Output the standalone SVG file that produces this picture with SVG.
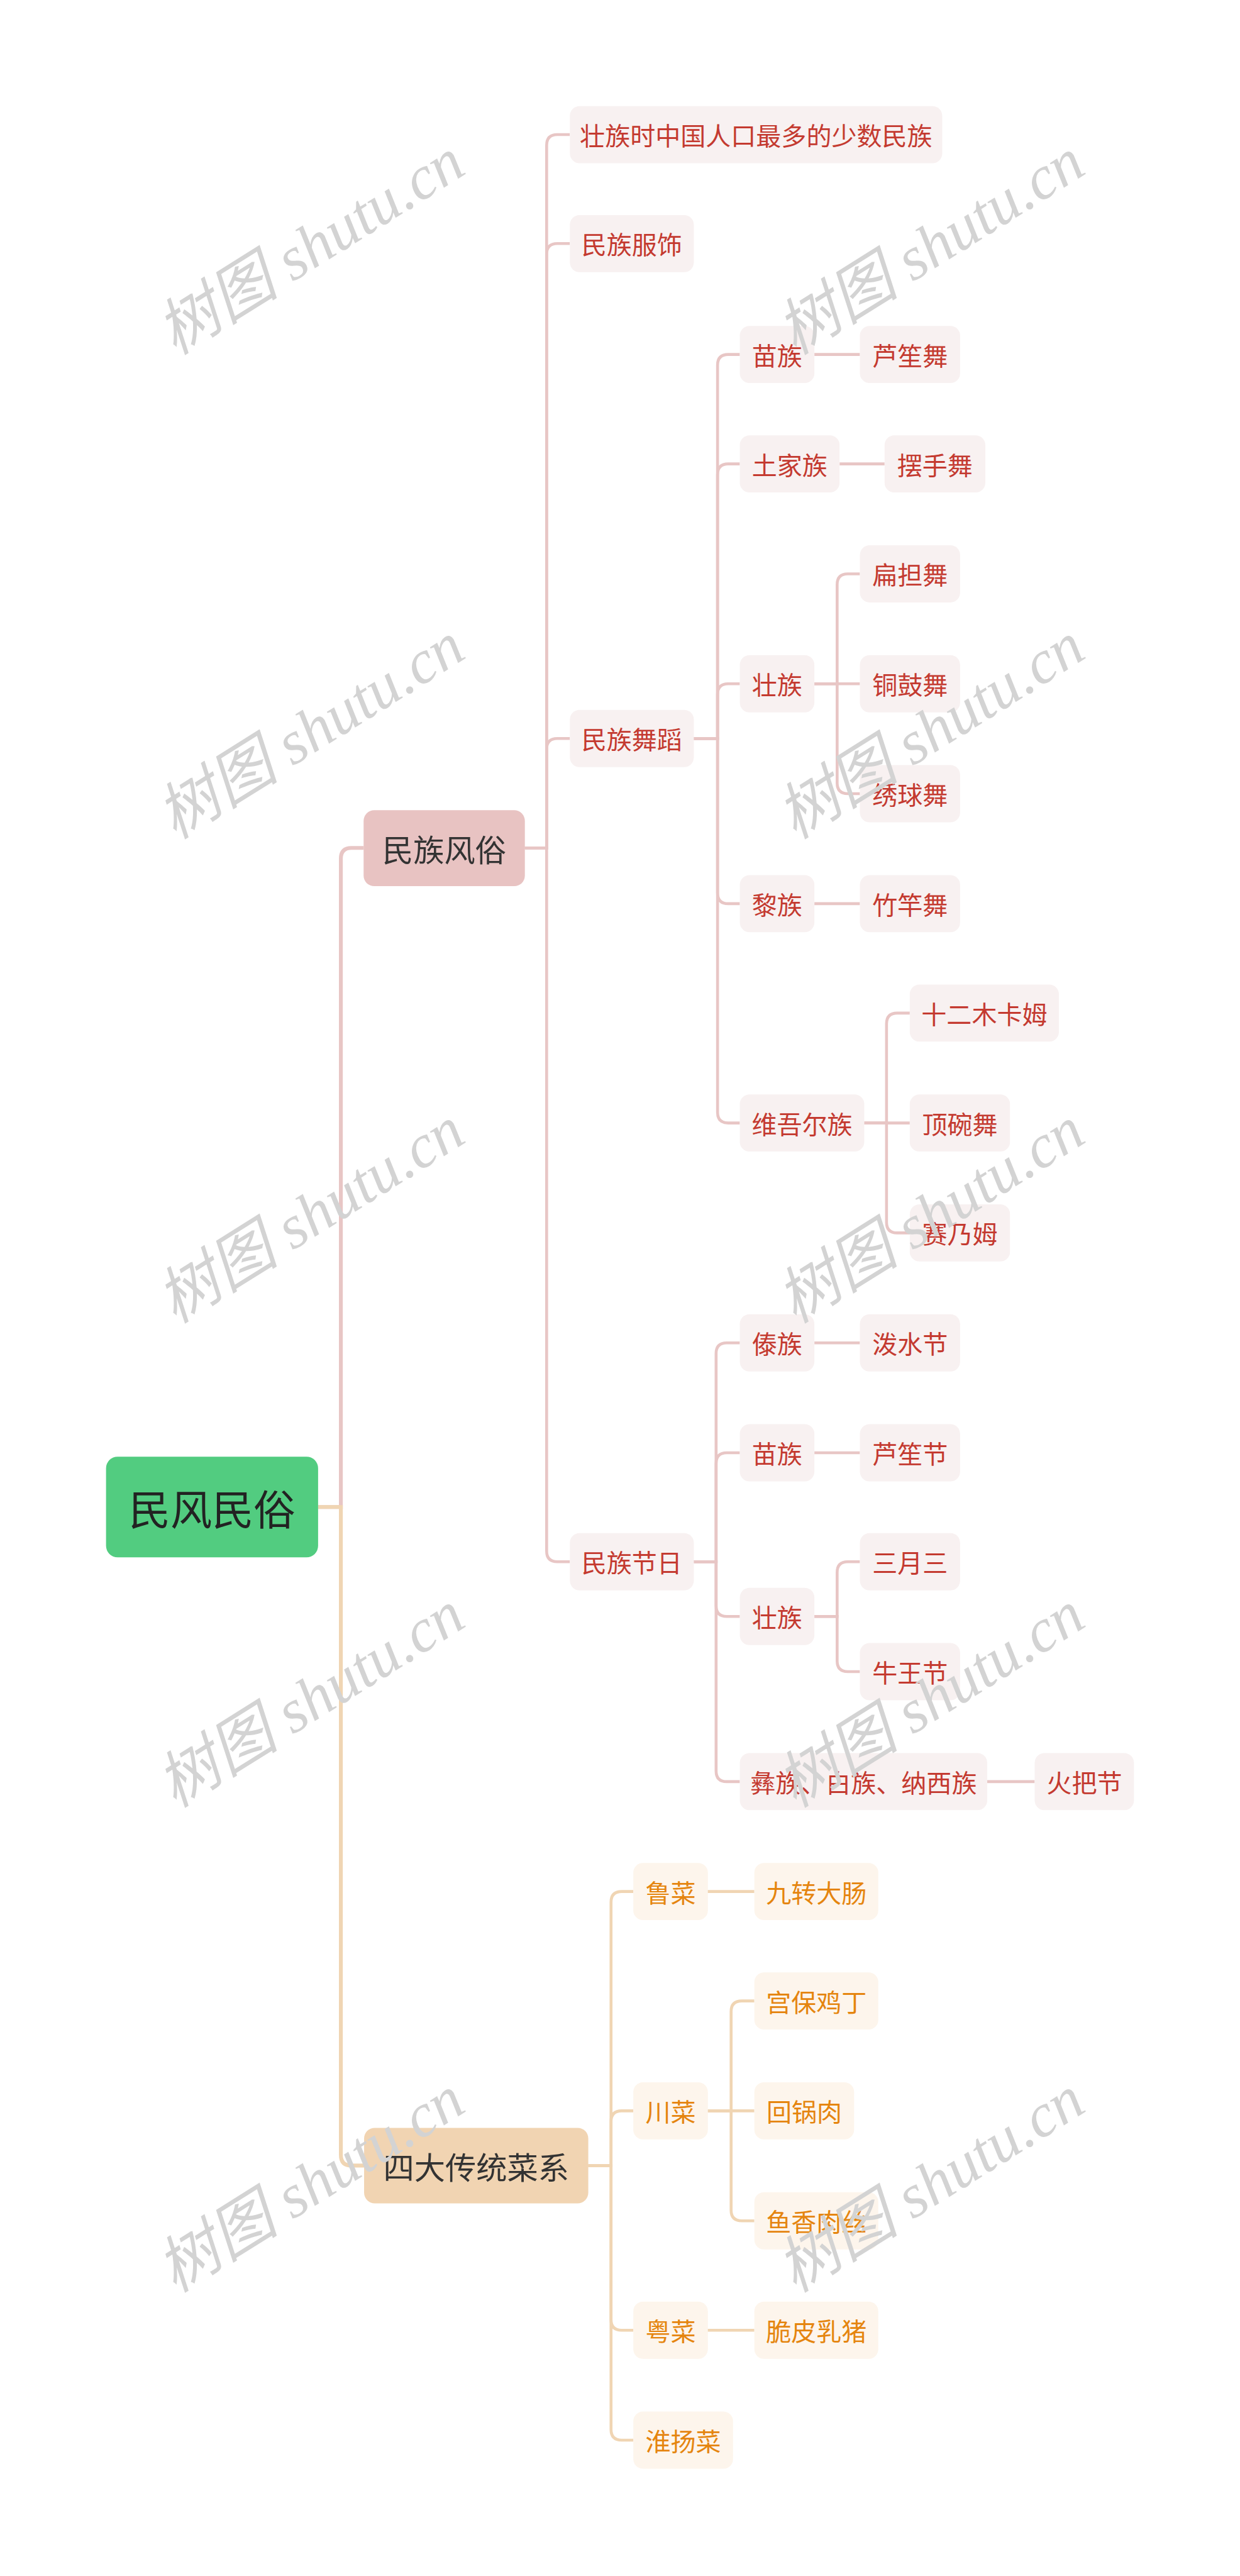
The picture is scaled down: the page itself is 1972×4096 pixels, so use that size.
<svg xmlns="http://www.w3.org/2000/svg" width="1972" height="4096" viewBox="0 0 1972 4096">
<style>
.pk{fill:#f8f1f1}
.or{fill:#fdf5ec}
.tp{font-family:"Noto Sans CJK SC","Noto Sans",sans-serif;font-size:52px;fill:#c43a30;text-anchor:middle;dominant-baseline:central}
.to{font-family:"Noto Sans CJK SC","Noto Sans",sans-serif;font-size:52px;fill:#e5850f;text-anchor:middle;dominant-baseline:central}
.t1{font-family:"Noto Sans CJK SC","Noto Sans",sans-serif;font-size:64px;fill:#333333;text-anchor:middle;dominant-baseline:central}
.t0{font-family:"Noto Sans CJK SC","Noto Sans",sans-serif;font-size:86px;fill:#222222;text-anchor:middle;dominant-baseline:central}
.cp{fill:none;stroke:#e8c6c5;stroke-width:6}
.co{fill:none;stroke:#f0d5b3;stroke-width:6}
.cp8{fill:none;stroke:#e8c6c5;stroke-width:8}
.co8{fill:none;stroke:#f0d5b3;stroke-width:8}
.wm{font-family:"Liberation Serif","Noto Sans CJK SC",serif;font-style:italic;font-size:98px;fill:#d3d3d3;text-anchor:middle;dominant-baseline:central}
</style>
<rect width="1972" height="4096" fill="#ffffff"/>
<g transform="scale(0.77)">
<g id="connectors">
<path class="cp8" d="M657,3112 H704 V1773 Q704,1751 726,1751 H751"/>
<path class="co8" d="M657,3112 H704 V4450 Q704,4472 726,4472 H752"/>
<path class="cp" d="M1084,1751 H1129 V300 Q1129,278 1151,278 H1177"/>
<path class="cp" d="M1084,1751 H1129 V525 Q1129,503 1151,503 H1177"/>
<path class="cp" d="M1084,1751 H1129 V1547 Q1129,1525 1151,1525 H1177"/>
<path class="cp" d="M1084,1751 H1129 V3203 Q1129,3225 1151,3225 H1177"/>
<path class="cp" d="M1433,1525 H1482 V754 Q1482,732 1504,732 H1528"/>
<path class="cp" d="M1433,1525 H1482 V980 Q1482,958 1504,958 H1528"/>
<path class="cp" d="M1433,1525 H1482 V1434 Q1482,1412 1504,1412 H1528"/>
<path class="cp" d="M1433,1525 H1482 V1844 Q1482,1866 1504,1866 H1528"/>
<path class="cp" d="M1433,1525 H1482 V2297 Q1482,2319 1504,2319 H1528"/>
<path class="cp" d="M1682,732 H1776"/>
<path class="cp" d="M1734,958 H1827"/>
<path class="cp" d="M1682,1412 H1729 V1207 Q1729,1185 1751,1185 H1776"/>
<path class="cp" d="M1682,1412 H1776"/>
<path class="cp" d="M1682,1412 H1729 V1617 Q1729,1639 1751,1639 H1776"/>
<path class="cp" d="M1682,1866 H1776"/>
<path class="cp" d="M1785,2319 H1831 V2114 Q1831,2092 1853,2092 H1879"/>
<path class="cp" d="M1785,2319 H1879"/>
<path class="cp" d="M1785,2319 H1831 V2524 Q1831,2546 1853,2546 H1879"/>
<path class="cp" d="M1433,3225 H1479 V2795 Q1479,2773 1501,2773 H1528"/>
<path class="cp" d="M1433,3225 H1479 V3022 Q1479,3000 1501,3000 H1528"/>
<path class="cp" d="M1433,3225 H1479 V3316 Q1479,3338 1501,3338 H1528"/>
<path class="cp" d="M1433,3225 H1479 V3657 Q1479,3679 1501,3679 H1528"/>
<path class="cp" d="M1682,2773 H1776"/>
<path class="cp" d="M1682,3000 H1776"/>
<path class="cp" d="M1682,3338 H1729 V3247 Q1729,3225 1751,3225 H1776"/>
<path class="cp" d="M1682,3338 H1729 V3430 Q1729,3452 1751,3452 H1776"/>
<path class="cp" d="M2039,3679 H2137"/>
<path class="co" d="M1215,4472 H1262 V3928 Q1262,3906 1284,3906 H1308"/>
<path class="co" d="M1215,4472 H1262 V4381 Q1262,4359 1284,4359 H1308"/>
<path class="co" d="M1215,4472 H1262 V4790 Q1262,4812 1284,4812 H1308"/>
<path class="co" d="M1215,4472 H1262 V5017 Q1262,5039 1284,5039 H1308"/>
<path class="co" d="M1461,3906 H1558"/>
<path class="co" d="M1461,4359 H1510 V4154 Q1510,4132 1532,4132 H1558"/>
<path class="co" d="M1461,4359 H1558"/>
<path class="co" d="M1461,4359 H1510 V4564 Q1510,4586 1532,4586 H1558"/>
<path class="co" d="M1461,4812 H1558"/>
</g>
<g id="root"><rect x="219" y="3008" width="438" height="208" rx="24" fill="#52cc80"/><text class="t0" x="438" y="3112">民风民俗</text></g>
<g id="n-minzufengsu"><rect x="751" y="1673" width="333" height="157" rx="22" fill="#e8c3c2"/><text class="t1" x="917.5" y="1751.5">民族风俗</text></g>
<g id="n-caixi"><rect x="752" y="4394" width="463" height="156" rx="22" fill="#f1d4b2"/><text class="t1" x="983.5" y="4472">四大传统菜系</text></g>

<g id="n-zhuangzu-renkou"><rect class="pk" x="1177" y="219" width="769" height="118" rx="20"/><text class="tp" x="1561.5" y="278">壮族时中国人口最多的少数民族</text></g>
<g id="n-fushi"><rect class="pk" x="1177" y="444" width="256" height="118" rx="20"/><text class="tp" x="1305" y="503">民族服饰</text></g>
<g id="n-wudao"><rect class="pk" x="1177" y="1466" width="256" height="118" rx="20"/><text class="tp" x="1305" y="1525">民族舞蹈</text></g>
<g id="n-jieri"><rect class="pk" x="1177" y="3166" width="256" height="118" rx="20"/><text class="tp" x="1305" y="3225">民族节日</text></g>

<g id="n-miaozu1"><rect class="pk" x="1528" y="673" width="154" height="118" rx="20"/><text class="tp" x="1605" y="732">苗族</text></g>
<g id="n-lushengwu"><rect class="pk" x="1776" y="673" width="207" height="118" rx="20"/><text class="tp" x="1879.5" y="732">芦笙舞</text></g>
<g id="n-tujiazu"><rect class="pk" x="1528" y="899" width="206" height="118" rx="20"/><text class="tp" x="1631" y="958">土家族</text></g>
<g id="n-baishouwu"><rect class="pk" x="1827" y="899" width="208" height="118" rx="20"/><text class="tp" x="1931" y="958">摆手舞</text></g>
<g id="n-zhuangzu1"><rect class="pk" x="1528" y="1353" width="154" height="118" rx="20"/><text class="tp" x="1605" y="1412">壮族</text></g>
<g id="n-biandanwu"><rect class="pk" x="1776" y="1126" width="207" height="118" rx="20"/><text class="tp" x="1879.5" y="1185">扁担舞</text></g>
<g id="n-tonggu"><rect class="pk" x="1776" y="1353" width="207" height="118" rx="20"/><text class="tp" x="1879.5" y="1412">铜鼓舞</text></g>
<g id="n-xiuqiu"><rect class="pk" x="1776" y="1580" width="207" height="118" rx="20"/><text class="tp" x="1879.5" y="1639">绣球舞</text></g>
<g id="n-lizu"><rect class="pk" x="1528" y="1807" width="154" height="118" rx="20"/><text class="tp" x="1605" y="1866">黎族</text></g>
<g id="n-zhugan"><rect class="pk" x="1776" y="1807" width="207" height="118" rx="20"/><text class="tp" x="1879.5" y="1866">竹竿舞</text></g>
<g id="n-weiwuer"><rect class="pk" x="1528" y="2260" width="257" height="118" rx="20"/><text class="tp" x="1656.5" y="2319">维吾尔族</text></g>
<g id="n-muqam"><rect class="pk" x="1879" y="2033" width="308" height="118" rx="20"/><text class="tp" x="2033" y="2092">十二木卡姆</text></g>
<g id="n-dingwan"><rect class="pk" x="1879" y="2260" width="207" height="118" rx="20"/><text class="tp" x="1982.5" y="2319">顶碗舞</text></g>
<g id="n-sainaimu"><rect class="pk" x="1879" y="2487" width="207" height="118" rx="20"/><text class="tp" x="1982.5" y="2546">赛乃姆</text></g>

<g id="n-daizu"><rect class="pk" x="1528" y="2714" width="154" height="118" rx="20"/><text class="tp" x="1605" y="2773">傣族</text></g>
<g id="n-poshui"><rect class="pk" x="1776" y="2714" width="207" height="118" rx="20"/><text class="tp" x="1879.5" y="2773">泼水节</text></g>
<g id="n-miaozu2"><rect class="pk" x="1528" y="2941" width="154" height="118" rx="20"/><text class="tp" x="1605" y="3000">苗族</text></g>
<g id="n-lushengjie"><rect class="pk" x="1776" y="2941" width="207" height="118" rx="20"/><text class="tp" x="1879.5" y="3000">芦笙节</text></g>
<g id="n-zhuangzu2"><rect class="pk" x="1528" y="3279" width="154" height="118" rx="20"/><text class="tp" x="1605" y="3338">壮族</text></g>
<g id="n-sanyuesan"><rect class="pk" x="1776" y="3166" width="207" height="118" rx="20"/><text class="tp" x="1879.5" y="3225">三月三</text></g>
<g id="n-niuwang"><rect class="pk" x="1776" y="3393" width="207" height="118" rx="20"/><text class="tp" x="1879.5" y="3452">牛王节</text></g>
<g id="n-yizu"><rect class="pk" x="1528" y="3620" width="511" height="118" rx="20"/><text class="tp" x="1783.5" y="3679">彝族、白族、纳西族</text></g>
<g id="n-huoba"><rect class="pk" x="2137" y="3620" width="205" height="118" rx="20"/><text class="tp" x="2239.5" y="3679">火把节</text></g>

<g id="n-lucai"><rect class="or" x="1308" y="3847" width="154" height="118" rx="20"/><text class="to" x="1385" y="3906">鲁菜</text></g>
<g id="n-jiuzhuan"><rect class="or" x="1558" y="3847" width="256" height="118" rx="20"/><text class="to" x="1686" y="3906">九转大肠</text></g>
<g id="n-chuancai"><rect class="or" x="1308" y="4300" width="154" height="118" rx="20"/><text class="to" x="1385" y="4359">川菜</text></g>
<g id="n-gongbao"><rect class="or" x="1558" y="4073" width="256" height="118" rx="20"/><text class="to" x="1686" y="4132">宫保鸡丁</text></g>
<g id="n-huiguo"><rect class="or" x="1558" y="4300" width="206" height="118" rx="20"/><text class="to" x="1661" y="4359">回锅肉</text></g>
<g id="n-yuxiang"><rect class="or" x="1558" y="4527" width="256" height="118" rx="20"/><text class="to" x="1686" y="4586">鱼香肉丝</text></g>
<g id="n-yuecai"><rect class="or" x="1308" y="4753" width="154" height="118" rx="20"/><text class="to" x="1385" y="4812">粤菜</text></g>
<g id="n-cuipi"><rect class="or" x="1558" y="4753" width="256" height="118" rx="20"/><text class="to" x="1686" y="4812">脆皮乳猪</text></g>
<g id="n-huaiyang"><rect class="or" x="1308" y="4980" width="206" height="118" rx="20"/><text class="to" x="1411" y="5039">淮扬菜</text></g>
</g>
<g id="watermarks">
<text class="wm" transform="translate(494,392) rotate(-32)">树图 shutu.cn</text>
<text class="wm" transform="translate(1480,392) rotate(-32)">树图 shutu.cn</text>
<text class="wm" transform="translate(494,1162) rotate(-32)">树图 shutu.cn</text>
<text class="wm" transform="translate(1480,1162) rotate(-32)">树图 shutu.cn</text>
<text class="wm" transform="translate(494,1932) rotate(-32)">树图 shutu.cn</text>
<text class="wm" transform="translate(1480,1932) rotate(-32)">树图 shutu.cn</text>
<text class="wm" transform="translate(494,2702) rotate(-32)">树图 shutu.cn</text>
<text class="wm" transform="translate(1480,2702) rotate(-32)">树图 shutu.cn</text>
<text class="wm" transform="translate(494,3473) rotate(-32)">树图 shutu.cn</text>
<text class="wm" transform="translate(1480,3473) rotate(-32)">树图 shutu.cn</text>
</g>
</svg>
